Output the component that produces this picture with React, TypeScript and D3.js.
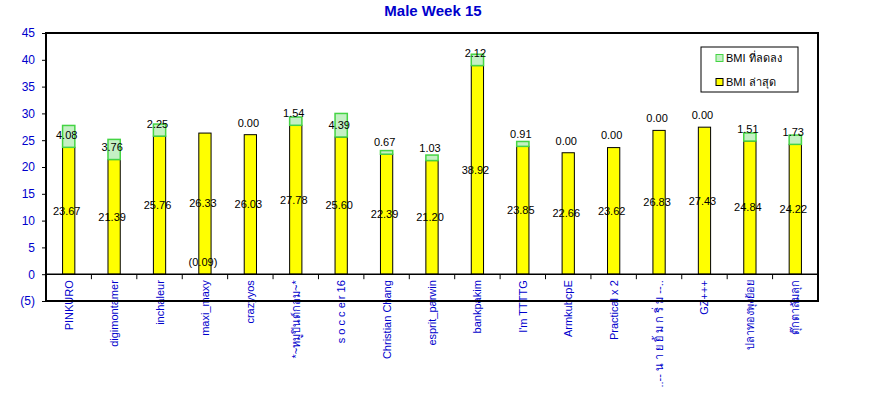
import React, { useEffect, useRef } from 'react'
import * as d3 from 'd3'

const names = [
  'PINKURO', 'digimontamer', 'inchaleur', 'maxi_maxy', 'crazyyos',
  '*~หมูปินต์กลม~*', 's o c c e r 16', 'Christian Chang', 'esprit_parwin',
  'bankpakim', "I'm TTTTG", 'ArmkubcpE', 'Practical x 2',
  '..-- น า ย ยิ้ ม ก ริ่ ม --..', 'GZ+++', 'ปลาทองพุงย้อย', 'ตุ๊กตาล้มลุก'
]
// BMI ล่าสุด (yellow)
const latest = [23.67, 21.39, 25.76, 26.33, 26.03, 27.78, 25.60, 22.39, 21.20, 38.92, 23.85, 22.66, 23.62, 26.83, 27.43, 24.84, 24.22]
// BMI ที่ลดลง (green, stacked on top)
const decrease = [4.08, 3.76, 2.25, -0.09, 0.00, 1.54, 4.39, 0.67, 1.03, 2.12, 0.91, 0.00, 0.00, 0.00, 0.00, 1.51, 1.73]
const yTicks = [-5, 0, 5, 10, 15, 20, 25, 30, 35, 40, 45]
const legendLabels = ['BMI ที่ลดลง', 'BMI ล่าสุด']

const W = 869
const H = 398
const PLOT = { LEFT: 46, RIGHT: 818, TOP: 33, BOTTOM: 301 }
const FONT = '"Liberation Sans", Arial, sans-serif'
const BLUE = '#0000cc'
const GREEN_FILL = '#c4f0c4'
const GREEN_STROKE = '#44d444'

export default function App() {
  const ref = useRef<SVGSVGElement>(null)

  useEffect(() => {
    const svg = d3.select(ref.current)
    svg.selectAll('*').remove()

    const x = d3.scaleBand<string>().domain(names).range([PLOT.LEFT, PLOT.RIGHT])
    const y = d3.scaleLinear().domain([-5, 45]).range([PLOT.BOTTOM, PLOT.TOP])
    const barW = x.bandwidth() * 0.27
    const data = names.map((n, i) => ({ name: n, latest: latest[i], diff: decrease[i] }))

    // title
    svg.append('text')
      .attr('x', 433).attr('y', 16)
      .attr('text-anchor', 'middle')
      .attr('font-family', FONT).attr('font-size', 15).attr('font-weight', 'bold')
      .attr('fill', BLUE)
      .text('Male Week 15')

    // y axis
    const yAxis = svg.append('g')
      .attr('transform', `translate(${PLOT.LEFT},0)`)
      .call(d3.axisLeft(y).tickValues(yTicks).tickSize(4).tickPadding(7)
        .tickFormat(d => (+d < 0 ? `(${-d})` : `${d}`)))
    yAxis.select('.domain').remove()
    yAxis.selectAll('line').attr('stroke', '#000')
    yAxis.selectAll('text').attr('fill', BLUE).attr('font-family', FONT).attr('font-size', 12)

    // category labels
    const g = svg.append('g')
    g.selectAll('.cat')
      .data(data)
      .join('text')
      .attr('class', 'cat')
      .attr('transform', d => `translate(${x(d.name)! + x.bandwidth() / 2 + 4},${y(0) + 6}) rotate(-90)`)
      .attr('text-anchor', 'end')
      .attr('font-family', FONT).attr('font-size', 11)
      .attr('fill', BLUE)
      .text(d => d.name)

    // yellow bars
    g.selectAll('.yb')
      .data(data)
      .join('rect')
      .attr('class', 'yb')
      .attr('x', d => x(d.name)! + (x.bandwidth() - barW) / 2)
      .attr('width', barW)
      .attr('y', d => y(d.latest))
      .attr('height', d => y(0) - y(d.latest))
      .attr('fill', '#ffff00')
      .attr('stroke', '#000').attr('stroke-width', 1)

    // green bars
    g.selectAll('.gb')
      .data(data.filter(d => d.diff > 0))
      .join('rect')
      .attr('class', 'gb')
      .attr('x', d => x(d.name)! + (x.bandwidth() - barW) / 2)
      .attr('width', barW)
      .attr('y', d => y(d.latest + d.diff))
      .attr('height', d => y(d.latest) - y(d.latest + d.diff))
      .attr('fill', GREEN_FILL)
      .attr('stroke', GREEN_STROKE).attr('stroke-width', 1.5)

    // value labels (sit a touch left of the bar centre, as in the original)
    g.selectAll('.yl')
      .data(data)
      .join('text')
      .attr('class', 'yl')
      .attr('x', d => x(d.name)! + x.bandwidth() / 2 - 2)
      .attr('y', d => y(d.latest / 2))
      .attr('dy', '0.35em')
      .attr('text-anchor', 'middle')
      .attr('font-family', FONT).attr('font-size', 11)
      .text(d => d.latest.toFixed(2))

    g.selectAll('.gl')
      .data(data)
      .join('text')
      .attr('class', 'gl')
      .attr('x', d => x(d.name)! + x.bandwidth() / 2 - 2)
      .attr('y', d => (d.diff < 0 ? y(0) : y(d.latest)) - 12)
      .attr('dy', '0.35em')
      .attr('text-anchor', 'middle')
      .attr('font-family', FONT).attr('font-size', 11)
      .text(d => (d.diff < 0 ? `(${Math.abs(d.diff).toFixed(2)})` : d.diff.toFixed(2)))

    // zero line + category ticks
    svg.append('line')
      .attr('x1', PLOT.LEFT).attr('x2', PLOT.RIGHT)
      .attr('y1', y(0)).attr('y2', y(0))
      .attr('stroke', '#000').attr('stroke-width', 1.5)
    svg.selectAll('.xt')
      .data(names.slice(1))
      .join('line')
      .attr('class', 'xt')
      .attr('x1', d => x(d)!).attr('x2', d => x(d)!)
      .attr('y1', y(0)).attr('y2', y(0) + 5)
      .attr('stroke', '#000')

    // plot border
    svg.append('rect')
      .attr('x', PLOT.LEFT).attr('y', PLOT.TOP)
      .attr('width', PLOT.RIGHT - PLOT.LEFT).attr('height', PLOT.BOTTOM - PLOT.TOP)
      .attr('fill', 'none').attr('stroke', '#000').attr('stroke-width', 2)

    // legend
    const lg = svg.append('g').attr('transform', 'translate(701,47)')
    lg.append('rect')
      .attr('width', 97).attr('height', 45)
      .attr('fill', '#fff').attr('stroke', '#000').attr('stroke-width', 1)
    const items = lg.selectAll('.li')
      .data(legendLabels)
      .join('g')
      .attr('class', 'li')
      .attr('transform', (_, i) => `translate(15,${11 + i * 24})`)
    items.append('rect')
      .attr('x', 0).attr('y', -3.5).attr('width', 7).attr('height', 7)
      .attr('fill', (_, i) => (i === 0 ? GREEN_FILL : '#ffff00'))
      .attr('stroke', (_, i) => (i === 0 ? GREEN_STROKE : '#000'))
    items.append('text')
      .attr('x', 10).attr('dy', '0.35em')
      .attr('font-family', FONT).attr('font-size', 11)
      .text(d => d)
  }, [])

  return (
    <svg ref={ref} width={W} height={H}
      style={{ position: 'absolute', left: 0, top: 0, background: '#fff' }} />
  )
}
